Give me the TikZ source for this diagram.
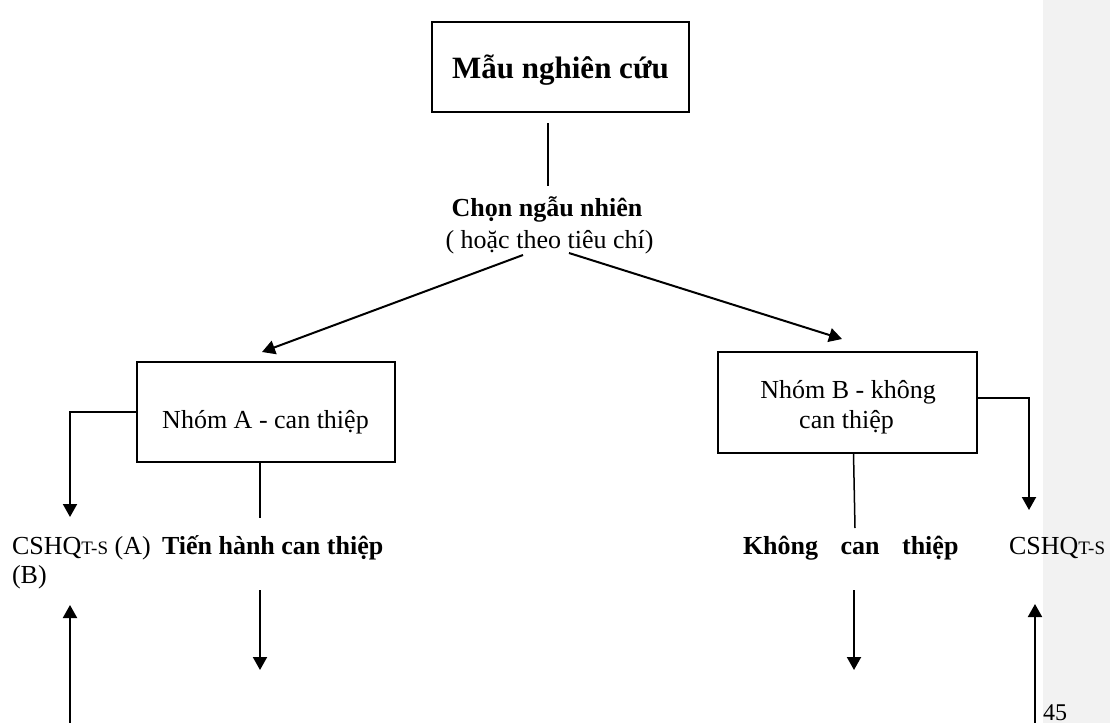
\documentclass[tikz,border=0pt]{standalone}
\usepackage{fontspec}
\setmainfont{Liberation Serif}
\usetikzlibrary{arrows.meta}
% small capitals used as an index after CSHQ
\newcommand{\tsidx}{{\fontsize{9.5}{11}\selectfont T-S}}

\begin{document}
\begin{tikzpicture}[x=0.5pt,y=-0.5pt,
  every node/.style={inner sep=0pt, outer sep=0pt, font=\fontsize{13}{15}\selectfont},
  box/.style={draw, line width=0.75pt},
  link/.style={line width=0.75pt},
  arr/.style={-{Triangle[length=6.5pt,width=7pt]}, line width=1pt},
  lbl/.style={anchor=base},
  lblw/.style={anchor=base west}]
\useasboundingbox (0,0) rectangle (1110,723);

% margin strip on the right
\fill[black!5] (1043,0) rectangle (1110,723);

% boxes
\node[box, minimum width=128.5pt, minimum height=45pt] (sample) at (560.5,67) {};
\node[lbl, font=\fontsize{15.5}{18}\selectfont\bfseries] (sampletxt) at (560.5,78) {Mẫu nghiên cứu};

\node[box, minimum width=129pt, minimum height=50pt] (boxA) at (266,412) {};
\node[lbl] (boxAtxt) at (265.5,428) {Nhóm A - can thiệp};

\node[box, minimum width=129.5pt, minimum height=50.5pt] (boxB) at (847.5,402.5) {};
\node[lbl] (boxBtxt1) at (848,398) {Nhóm B - không};
\node[lbl] (boxBtxt2) at (846.5,428) {can thiệp};

% selection labels
\node[lbl, font=\fontsize{13}{15}\selectfont\bfseries] (choose) at (547,216) {Chọn ngẫu nhiên};
\node[lbl] (choose2) at (549.5,248) {( hoặc theo tiêu chí)};

% lower labels
\node[lblw] (cshqA) at (12,554) {CSHQ\tsidx\ (A)};
\node[lblw] (cshqB) at (12,583) {(B)};
\node[lblw, font=\fontsize{13}{15}\selectfont\bfseries] (doA) at (162,554) {Tiến hành can thiệp};
\node[lblw, font=\fontsize{13}{15}\selectfont\bfseries] (noB) at (743,554) {Không\hspace{11.25pt}can\hspace{11.25pt}thiệp};
\node[lblw] (cshqR) at (1009,554) {CSHQ\tsidx};
\node[lblw, font=\fontsize{12}{14}\selectfont] (page) at (1043,720) {45};

% connector end points
\coordinate (s1) at (548,123);
\coordinate (s2) at (548,186);
\coordinate (ca) at (523,255);
\coordinate (ta) at (262,352);
\coordinate (cb) at (569,253);
\coordinate (tb) at (842,339);
\coordinate (tipAL) at (70,517);
\coordinate (aDown) at (260,518);
\coordinate (bTop) at (853.5,453);
\coordinate (bDown) at (855,528);
\coordinate (tipBR) at (1029,510);
\coordinate (upAfrom) at (70,723);
\coordinate (upAto) at (70,605);
\coordinate (dnAfrom) at (260,590);
\coordinate (dnAto) at (260,670);
\coordinate (dnBfrom) at (854,590);
\coordinate (dnBto) at (854,670);
\coordinate (upBfrom) at (1035,723);
\coordinate (upBto) at (1035,604);

% connectors
\draw[link] (s1) -- (s2);
\draw[arr] (ca) -- (ta);
\draw[arr] (cb) -- (tb);
\draw[arr] (boxA.west) -| (tipAL);
\draw[link] (aDown |- boxA.south) -- (aDown);
\draw[link] (bTop) -- (bDown);
\draw[arr] ([yshift=2.25pt]boxB.east) -| (tipBR);
\draw[arr] (upAfrom) -- (upAto);
\draw[arr] (dnAfrom) -- (dnAto);
\draw[arr] (dnBfrom) -- (dnBto);
\draw[arr] (upBfrom) -- (upBto);
\end{tikzpicture}
\end{document}
